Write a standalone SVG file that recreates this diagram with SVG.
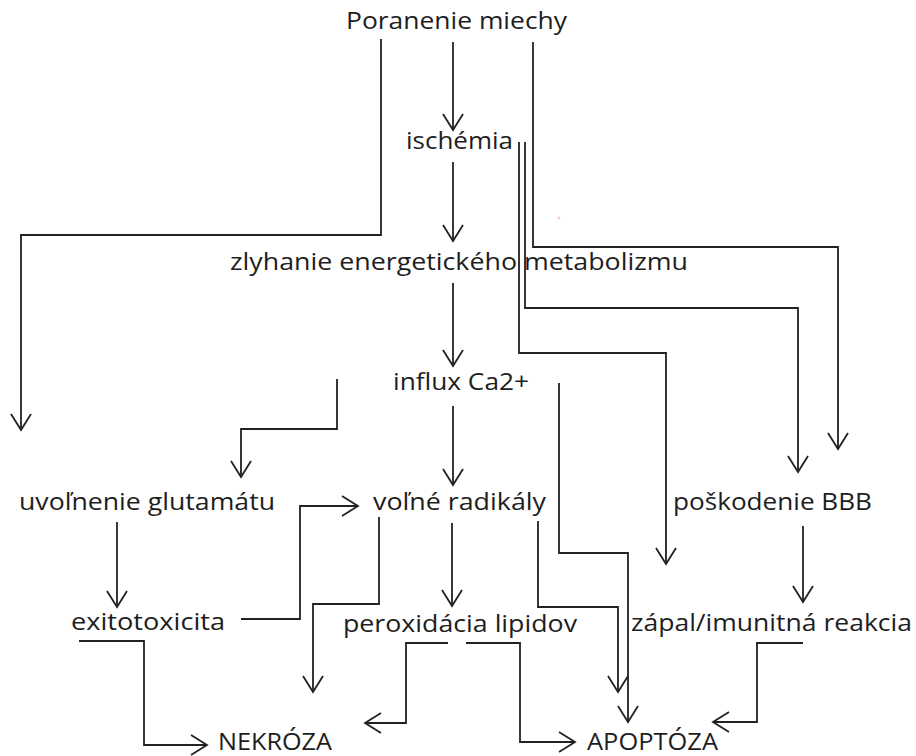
<svg xmlns="http://www.w3.org/2000/svg" width="916" height="756" viewBox="0 0 916 756">
<defs>
<style>
.t{font-family:"Open Sans","Liberation Sans",sans-serif;font-size:23px;fill:#1e1e1e}
.c{fill:none;stroke:#222;stroke-width:1.8;marker-end:url(#ah)}
</style>
<marker id="ah" markerUnits="userSpaceOnUse" orient="auto" viewBox="-18 -12 20 24" refX="0" refY="0" markerWidth="20" markerHeight="24">
<path d="M-16,-10 L0,0 L-16,10" fill="none" stroke="#222" stroke-width="1.8"/>
</marker>
</defs>
<rect width="916" height="756" fill="#fff"/>
<circle cx="559" cy="218" r="1.5" fill="#f8c4d4"/>
<g id="connectors">
<path class="c" d="M453,42 V130"/>
<path class="c" d="M381,39 V235 H21 V430"/>
<path class="c" d="M533,42 V247 H838 V449"/>
<path class="c" d="M453,162 V241"/>
<path class="c" d="M525,142 V308 H798 V472"/>
<path class="c" d="M519,142 V353 H666 V564"/>
<path class="c" d="M453,283 V366"/>
<path class="c" d="M337,379 V429 H241 V477"/>
<path class="c" d="M453,406 V485"/>
<path class="c" d="M559,383 V553 H628 V722"/>
<path class="c" d="M117,522 V607"/>
<path class="c" d="M241,619 H300 V506 H358"/>
<path class="c" d="M79,641 H144 V745 H207"/>
<path class="c" d="M379,517 V604 H313 V692"/>
<path class="c" d="M452,523 V606"/>
<path class="c" d="M538,521 V607 H618 V692"/>
<path class="c" d="M448,643 H406 V723 H365"/>
<path class="c" d="M466,643 H520 V742 H575"/>
<path class="c" d="M803,526 V602"/>
<path class="c" d="M803,643 H757 V722 H713"/>
</g>
<g id="poranenie"><text class="t" x="346" y="29" textLength="221" lengthAdjust="spacingAndGlyphs">Poranenie miechy</text></g>
<g id="ischemia"><text class="t" x="406" y="149" textLength="107" lengthAdjust="spacingAndGlyphs">ischémia</text></g>
<g id="zlyhanie"><text class="t" x="230" y="270" textLength="458" lengthAdjust="spacingAndGlyphs">zlyhanie energetického metabolizmu</text></g>
<g id="influx"><text class="t" x="393" y="390" textLength="136" lengthAdjust="spacingAndGlyphs">influx Ca2+</text></g>
<g id="glutamat"><text class="t" x="19" y="510" textLength="256" lengthAdjust="spacingAndGlyphs">uvoľnenie glutamátu</text></g>
<g id="radikaly"><text class="t" x="373" y="510" textLength="173" lengthAdjust="spacingAndGlyphs">voľné radikály</text></g>
<g id="bbb"><text class="t" x="673" y="510" textLength="199" lengthAdjust="spacingAndGlyphs">poškodenie BBB</text></g>
<g id="exitotoxicita"><text class="t" x="71" y="630" textLength="154" lengthAdjust="spacingAndGlyphs">exitotoxicita</text></g>
<g id="peroxidacia"><text class="t" x="343" y="632" textLength="234" lengthAdjust="spacingAndGlyphs">peroxidácia lipidov</text></g>
<g id="zapal"><text class="t" x="631" y="631" textLength="281" lengthAdjust="spacingAndGlyphs">zápal/imunitná reakcia</text></g>
<g id="nekroza"><text class="t" x="218" y="750" textLength="114" lengthAdjust="spacingAndGlyphs">NEKRÓZA</text></g>
<g id="apoptoza"><text class="t" x="587" y="750" textLength="131" lengthAdjust="spacingAndGlyphs">APOPTÓZA</text></g>
</svg>
